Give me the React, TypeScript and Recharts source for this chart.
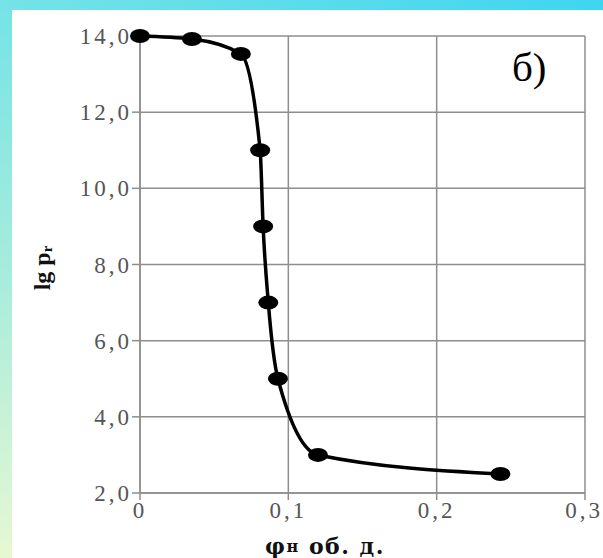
import React from 'react';
import {
  LineChart,
  Line,
  XAxis,
  YAxis,
  CartesianGrid,
  Label,
} from 'recharts';

// oil saturation, vol. fraction
const PHI = [0, 0.035, 0.068, 0.081, 0.083, 0.0865, 0.093, 0.12, 0.243];
// log of pressure
const LG_P = [14.0, 13.92, 13.53, 11.0, 9.0, 7.0, 5.0, 3.0, 2.5];

const X_TICKS = [0, 0.1, 0.2, 0.3];
const Y_TICKS = [2, 4, 6, 8, 10, 12, 14];

const data = PHI.map((phi, i) => ({ phi, lgp: LG_P[i] }));

const GRID = '#8e8e8e';
const SERIF = '"Liberation Serif", "Times New Roman", serif';
const tickStyle = {
  fontFamily: SERIF,
  fontSize: 23,
  fill: '#555',
  letterSpacing: 3,
};

const comma = (v: number, digits: number) =>
  v === 0 && digits === 0 ? '0' : v.toFixed(digits).replace('.', ',');

function EllipseDot(props: any) {
  const { cx, cy } = props;
  if (cx == null || cy == null) return null;
  return <ellipse cx={cx} cy={cy} rx={10} ry={7} fill="#000" />;
}

function YTitle() {
  return (
    <text
      x={42}
      y={268}
      transform="rotate(-90 42 268)"
      textAnchor="middle"
      dominantBaseline="central"
      fontFamily={SERIF}
      fontWeight="bold"
      fontSize={24}
      fill="#111"
    >
      lg p
      <tspan fontSize={15} dy={5}>r</tspan>
    </text>
  );
}

function XTitle() {
  return (
    <text
      x={325}
      y={546}
      textAnchor="middle"
      dominantBaseline="central"
      fontFamily='"DejaVu Serif", serif'
      fontWeight="bold"
      fontSize={22}
      letterSpacing={1.5}
      fill="#111"
    >
      φ<tspan fontSize={16}>н</tspan> об. д.
    </text>
  );
}

export default function App() {
  return (
    <div
      style={{
        position: 'absolute',
        left: 0,
        top: 0,
        width: 603,
        height: 558,
        background: 'linear-gradient(to bottom, #74e3e6 0%, #a8ecdc 50%, #e6f8d2 100%)',
        overflow: 'hidden',
      }}
    >
      <div
        style={{
          position: 'absolute',
          left: 0,
          top: 0,
          width: 603,
          height: 10,
          background: 'linear-gradient(to right, #76e3e6, #3fd5f0)',
        }}
      />
      <div
        style={{
          position: 'absolute',
          left: 12,
          top: 10,
          right: 0,
          bottom: 0,
          background: '#fff',
        }}
      />
      <div style={{ position: 'absolute', left: 0, top: 0 }}>
        <LineChart
          width={603}
          height={558}
          data={data}
          margin={{ top: 36, right: 18, bottom: 0, left: 0 }}
        >
          <CartesianGrid stroke={GRID} strokeWidth={1.5} />
          <XAxis
            type="number"
            dataKey="phi"
            domain={[0, 0.3]}
            ticks={X_TICKS}
            tickFormatter={(v: number) => comma(v, v === 0 ? 0 : 1)}
            height={65}
            stroke={GRID}
            strokeWidth={1.5}
            tickSize={7}
            tickMargin={2}
            tick={tickStyle}
          >
            <Label content={<XTitle />} />
          </XAxis>
          <YAxis
            type="number"
            domain={[2, 14]}
            ticks={Y_TICKS}
            tickFormatter={(v: number) => comma(v, 1)}
            width={140}
            stroke={GRID}
            strokeWidth={1.5}
            tickSize={8}
            tickMargin={0}
            tick={tickStyle}
          >
            <Label content={<YTitle />} />
          </YAxis>
          <Line
            type="monotone"
            dataKey="lgp"
            stroke="#000"
            strokeWidth={3.5}
            dot={<EllipseDot />}
            activeDot={false}
            isAnimationActive={false}
          />
        </LineChart>
      </div>
      <div
        style={{
          position: 'absolute',
          left: 512,
          top: 47,
          fontFamily: SERIF,
          fontSize: 41,
          color: '#000',
          lineHeight: 1,
        }}
      >
        б)
      </div>
    </div>
  );
}
